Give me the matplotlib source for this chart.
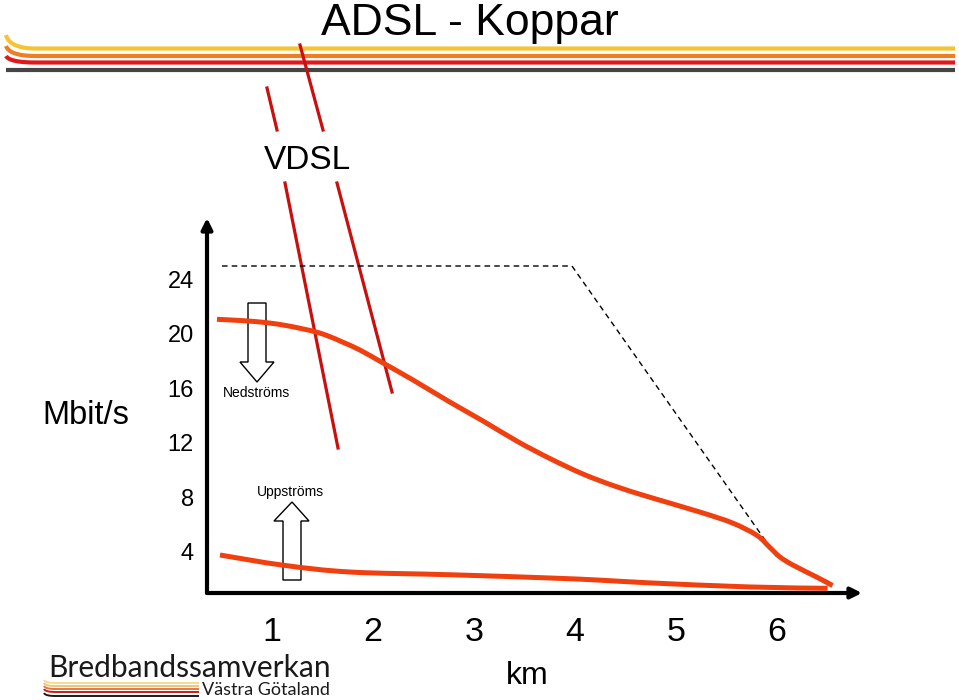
import numpy as np
import matplotlib
matplotlib.use("Agg")
import matplotlib.pyplot as plt
from matplotlib.patches import Polygon, PathPatch
from matplotlib.path import Path

plt.rcParams['font.family'] = ['Liberation Sans', 'DejaVu Sans']

# ---------------- data ----------------
dist_down = [0.455, 0.713, 0.95, 1.149, 1.307, 1.446, 1.574, 1.703, 1.871, 2.099,
             2.40, 2.76, 3.09, 3.43, 3.75, 4.08, 4.40, 4.74, 5.24, 5.56,
             5.80, 5.93, 6.03, 6.16, 6.40, 6.55]
rate_down = [21.08, 20.98, 20.83, 20.61, 20.37, 20.13, 19.8, 19.39, 18.82, 17.87,
             16.6, 15.0, 13.6, 12.1, 10.85, 9.7, 8.8, 8.0, 6.9, 6.1,
             5.2, 4.3, 3.6, 3.0, 2.1, 1.5]
dist_up = [0.485, 1.11, 1.77, 2.76, 3.75, 4.25, 4.74, 5.73, 6.50]
rate_up = [3.75, 3.0, 2.5, 2.3, 2.06, 1.9, 1.7, 1.4, 1.3]
dist_max = [0.505, 3.97, 6.0, 6.52]
rate_max = [25.0, 25.0, 3.6, 1.76]
y_ticks = [4, 8, 12, 16, 20, 24]
x_ticks = [1, 2, 3, 4, 5, 6]

W, H = 959, 700
fig = plt.figure(figsize=(W / 100, H / 100), dpi=100)

# overlay in pixel coordinates (decorations)
ov = fig.add_axes([0, 0, 1, 1])
ov.set_xlim(0, W)
ov.set_ylim(H, 0)
ov.axis('off')

def curl_line(x0, y_start, y_h, w, x1, color, lw, ax):
    t = np.linspace(0, 1, 40)
    p0 = np.array([x0, y_start]); p1 = np.array([x0 + 0.12 * w, y_h]); p2 = np.array([x0 + w, y_h])
    pts = ((1 - t) ** 2)[:, None] * p0 + (2 * (1 - t) * t)[:, None] * p1 + (t ** 2)[:, None] * p2
    xs = np.concatenate([pts[:, 0], [x1]])
    ys = np.concatenate([pts[:, 1], [y_h]])
    ax.plot(xs, ys, color=color, lw=lw, solid_capstyle='butt')

# top stripes
curl_line(6, 35, 48.5, 30, 955, '#F6C431', 3.0, ov)
curl_line(6, 46, 56, 30, 955, '#EE7D24', 3.0, ov)
curl_line(6, 56, 62.5, 30, 955, '#E2171C', 3.0, ov)
ov.plot([6, 955], [69.5, 69.5], color='#454545', lw=3.0, solid_capstyle='butt')

# title
ov.text(470, 35, 'ADSL - Koppar', fontsize=32, ha='center', va='baseline')

# VDSL
ov.text(307, 169, 'VDSL', fontsize=24, ha='center', va='baseline')
vred = '#C8100F'
ov.plot([267, 277], [88, 130], color=vred, lw=2.3)
ov.plot([285, 338], [183, 448], color=vred, lw=2.3)
ov.plot([300, 323], [45, 130], color=vred, lw=2.3)
ov.plot([337, 392], [183, 392], color=vred, lw=2.3)

# Mbit/s, km
ov.text(86, 424, 'Mbit/s', fontsize=23.5, ha='center', va='baseline')
ov.text(527, 684, 'km', fontsize=23, ha='center', va='baseline')

# block arrows
down = [(248, 303), (266, 303), (266, 362), (274, 362), (257, 382), (240, 362), (248, 362)]
up = [(283, 580), (301, 580), (301, 521), (309, 521), (292, 502), (274, 521), (283, 521)]
for poly in (down, up):
    ov.add_patch(Polygon(poly, closed=True, facecolor='white', edgecolor='black', lw=1.0, zorder=1))
ov.text(256, 397, 'Nedströms', fontsize=10, ha='center', va='baseline')
ov.text(290, 496, 'Uppströms', fontsize=10, ha='center', va='baseline')

# logo
ov.text(48, 677, 'Bredbandssamverkan', fontsize=21.5, ha='left', va='baseline',
        family=['Lato', 'DejaVu Sans'], color='#1a1a1a')
ov.text(330, 695, 'Västra Götaland', fontsize=13, ha='right', va='baseline',
        family=['Lato', 'DejaVu Sans'], color='#1a1a1a')
logo_cols = ['#F7DC8A', '#F3C27C', '#E07A45', '#C81E1E', '#1a1a1a']
logo_y = [683, 686, 689, 692, 696]
for c, yy in zip(logo_cols, logo_y):
    curl_line(44, yy - 3, yy, 12, 199, c, 1.4, ov)

# ---------------- main axes ----------------
left, right, top, bottom = 207, 862, 218, 593
ax = fig.add_axes([left / W, (H - bottom) / H, (right - left) / W, (bottom - top) / H])
ax.patch.set_alpha(0)
km0 = (left - 171) / 101; km1 = (right - 171) / 101
v0 = (606 - bottom) / 13.6; v1 = (606 - top) / 13.6
ax.set_xlim(km0, km1)
ax.set_ylim(v0, v1)
for s in ax.spines.values():
    s.set_visible(False)

ax.annotate('', xy=(0, 1), xytext=(0, 0), xycoords='axes fraction',
            arrowprops=dict(arrowstyle='-|>', lw=3, color='black', mutation_scale=16, shrinkA=0, shrinkB=0))
ax.annotate('', xy=(1, 0), xytext=(0, 0), xycoords='axes fraction',
            arrowprops=dict(arrowstyle='-|>', lw=3, color='black', mutation_scale=16, shrinkA=0, shrinkB=0))


def smooth_path(xs, ys):
    """Catmull-Rom through the points, rendered as cubic Bezier segments."""
    pts = ax.transData.transform(np.column_stack([xs, ys]))
    verts = [pts[0]]
    codes = [Path.MOVETO]
    n = len(pts)
    for i in range(n - 1):
        p0 = pts[i - 1] if i > 0 else pts[i]
        p1 = pts[i]
        p2 = pts[i + 1]
        p3 = pts[i + 2] if i + 2 < n else pts[i + 1]
        c1 = p1 + (p2 - p0) / 6.0
        c2 = p2 - (p3 - p1) / 6.0
        verts += [c1, c2, p2]
        codes += [Path.CURVE4] * 3
    inv = ax.transData.inverted()
    return Path(inv.transform(np.array(verts)), codes)


ax.plot(dist_max, rate_max, color='black', lw=1.0, ls=(0, (4, 3)))
for xs, ys in ((dist_down, rate_down), (dist_up, rate_up)):
    ax.add_patch(PathPatch(smooth_path(xs, ys), facecolor='none', edgecolor='#F0400F',
                           lw=3.6, capstyle='butt', zorder=3))

ax.set_yticks(y_ticks)
ax.set_yticklabels([str(v) for v in y_ticks], fontsize=17)
ax.set_xticks(x_ticks)
ax.set_xticklabels([str(v) for v in x_ticks], fontsize=24.5)
ax.tick_params(axis='y', length=0, pad=9.5)
ax.tick_params(axis='x', length=0, pad=17)

fig.savefig('out.png', dpi=100)
